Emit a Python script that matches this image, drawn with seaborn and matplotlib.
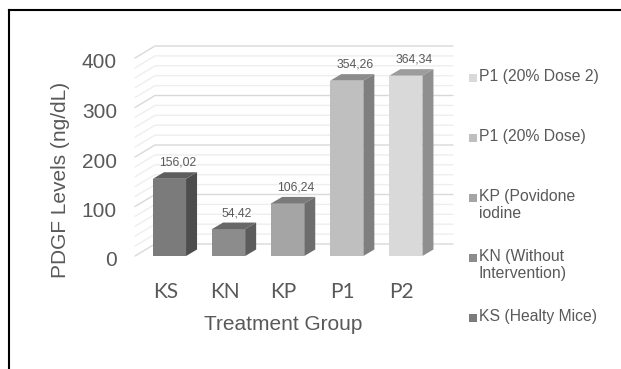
import numpy as np
import pandas as pd
import matplotlib
matplotlib.use("Agg")
import matplotlib.pyplot as plt
import matplotlib.transforms as mtransforms
from matplotlib.patches import Polygon, Rectangle
from matplotlib.lines import Line2D
import seaborn as sns

# ---------------- data ----------------
categories = ["KS", "KN", "KP", "P1", "P2"]
values = [156.02, 54.42, 106.24, 354.26, 364.34]
value_labels = ["156,02", "54,42", "106,24", "354,26", "364,34"]
legend_labels = ["KS (Healty Mice)", "KN (Without\nIntervention)",
                 "KP (Povidone\niodine", "P1 (20% Dose)", "P1 (20% Dose 2)"]
y_ticks = [0, 100, 200, 300, 400]
minor_step = 20
x_title = "Treatment Group"
y_title = "PDGF Levels (ng/dL)"

front_colors = ["#7b7b7b", "#8c8c8c", "#a5a5a5", "#bfbfbf", "#d9d9d9"]
side_colors = ["#4d4d4d", "#5c5c5c", "#6d6d6d", "#7f7f7f", "#8f8f8f"]
top_colors = ["#5e5e5e", "#686868", "#7a7a7a", "#8c8c8c", "#9c9c9c"]
text_color = "#595959"

# ---------------- layout (pixels) ----------------
W, H, DPI = 621, 369, 100
AX_L, AX_R = 135, 453
FLOOR = 256
SCALE = 0.495
AX_TOP = 40
X0, STEP = 169.5, 59.1
DX, DY = 11, 6.5     # bar depth
WX, WY = 20, 12      # back wall depth

sns.set_theme(style="white")
plt.rcParams["font.family"] = ["Liberation Sans", "DejaVu Sans"]

fig = plt.figure(figsize=(W / DPI, H / DPI), dpi=DPI)
fig.patch.set_facecolor("white")
ax = fig.add_axes([AX_L / W, (H - FLOOR) / H, (AX_R - AX_L) / W, (FLOOR - AX_TOP) / H])

df = pd.DataFrame({"group": categories, "value": values})
sns.barplot(data=df, x="group", y="value", hue="group", palette=front_colors,
            width=0.56, saturation=1, legend=False, ax=ax, linewidth=0, zorder=3)
ax.set_xlim((AX_L - X0) / STEP, (AX_R - X0) / STEP)
ax.set_ylim(0, (FLOOR - AX_TOP) / SCALE)
for s in ax.spines.values():
    s.set_visible(False)
ax.grid(False)

ident = mtransforms.IdentityTransform()

# back wall gridlines with slanted side segment
xmin = ax.get_xlim()[0]
for v in range(0, y_ticks[-1] + 1, minor_step):
    px, py = ax.transData.transform((xmin, v))
    major = (v % 100 == 0)
    ln = Line2D([px, px + WX, AX_R], [py, py + WY, py + WY], transform=ident,
                color="#d9d9d9" if major else "#eeeeee", lw=1.0, zorder=0.5,
                clip_on=False)
    ax.add_line(ln)

# 3D faces for bars
bars = sorted(ax.patches, key=lambda p: p.get_x())
for i, p in enumerate(bars):
    x0 = p.get_x()
    x1 = x0 + p.get_width()
    h = p.get_height()
    (ax0, ah), (ax1, _) = ax.transData.transform([(x0, h), (x1, h)])
    _, a0 = ax.transData.transform((x1, 0))
    top = Polygon([(ax0, ah), (ax1, ah), (ax1 + DX, ah + DY), (ax0 + DX, ah + DY)],
                  closed=True, transform=ident, facecolor=top_colors[i],
                  edgecolor="none", zorder=3.5, clip_on=False)
    side = Polygon([(ax1, a0), (ax1, ah), (ax1 + DX, ah + DY), (ax1 + DX, a0 + DY)],
                   closed=True, transform=ident, facecolor=side_colors[i],
                   edgecolor="none", zorder=3.5, clip_on=False)
    ax.add_patch(top)
    ax.add_patch(side)
    ax.annotate(value_labels[i], xy=(x0 + p.get_width() / 2, h),
                xytext=(8.5 * 72 / DPI, 16 * 72 / DPI), textcoords="offset points",
                ha="center", va="center", fontsize=8.8, color=text_color, zorder=5)

# ticks
ax.set_yticks(y_ticks)
ax.set_yticklabels([str(t) for t in y_ticks])
ax.tick_params(axis="y", length=0, pad=13, labelsize=15, labelcolor=text_color)
ax.tick_params(axis="x", length=0, pad=19, labelsize=15, labelcolor=text_color)
for lab in ax.get_yticklabels():
    lab.set_transform(lab.get_transform() + mtransforms.ScaledTranslation(0, -3 / DPI, fig.dpi_scale_trans))
for lab in ax.get_xticklabels():
    lab.set_fontfamily(["Liberation Sans Narrow", "Lato", "DejaVu Sans"])
    lab.set_transform(lab.get_transform() + mtransforms.ScaledTranslation(-4 / DPI, 0, fig.dpi_scale_trans))

ax.set_xlabel(x_title, fontsize=15, color=text_color)
ax.set_ylabel(y_title, fontsize=15, color=text_color)
ax.xaxis.label.set_va("center")
ax.yaxis.label.set_va("center")
ax.xaxis.set_label_coords((283 - AX_L) / (AX_R - AX_L), (FLOOR - 324) / (FLOOR - AX_TOP))
ax.yaxis.set_label_coords((60 - AX_L) / (AX_R - AX_L), (FLOOR - 180) / (FLOOR - AX_TOP))

# legend (manual, Excel-style fixed spacing, reversed order)
LEG_X, LEG_Y0, LEG_STEP = 469, 78, 60
for k, i in enumerate(reversed(range(len(categories)))):
    yc = LEG_Y0 + LEG_STEP * k
    fig.add_artist(Rectangle(((LEG_X) / W, (H - yc - 4) / H), 8 / W, 8 / H,
                             transform=fig.transFigure, facecolor=front_colors[i],
                             edgecolor="none"))
    fig.text((LEG_X + 10) / W, (H - yc + 8.6) / H, legend_labels[i], ha="left", va="top",
             fontsize=11.3, color=text_color, linespacing=1.12)

# outer frame (left and top edges)
fig.add_artist(Line2D([9 / W, 9 / W], [0, (H - 10) / H], transform=fig.transFigure,
                      color="black", lw=1.5, solid_capstyle="projecting"))
fig.add_artist(Line2D([9 / W, 1], [(H - 10) / H, (H - 10) / H], transform=fig.transFigure,
                      color="black", lw=1.5, solid_capstyle="projecting"))

fig.savefig("out.png", dpi=DPI)
